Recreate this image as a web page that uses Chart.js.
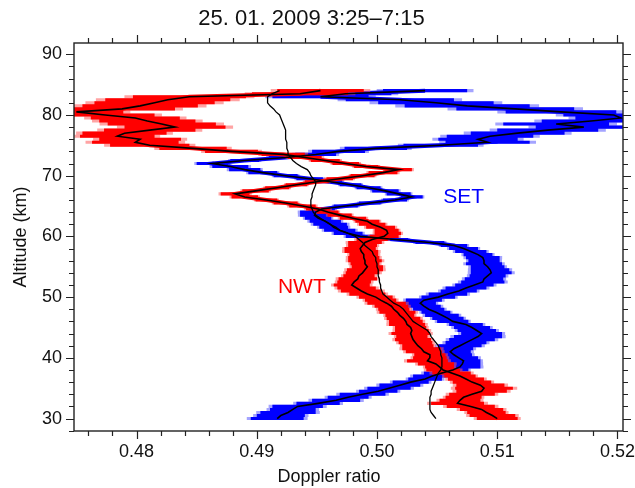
<!DOCTYPE html>
<html lang="en">
<head>
<meta charset="utf-8" />
<title>Doppler ratio profiles</title>
<script src="https://cdn.jsdelivr.net/npm/chart.js@4.4.1/dist/chart.umd.min.js"></script>
<style>
    html, body { margin: 0; padding: 0; background: #fff; }
    #wrap { width: 635px; height: 488px; }
</style>
</head>
<body>
<div id="wrap"><canvas id="chart" width="635" height="488"></canvas></div>
<script>
    // altitude grid (km)
    const altitude = [
        30, 30.5, 31, 31.5, 32, 32.5, 33, 33.5, 34, 34.5,
        35, 35.5, 36, 36.5, 37, 37.5, 38, 38.5, 39, 39.5,
        40, 40.5, 41, 41.5, 42, 42.5, 43, 43.5, 44, 44.5,
        45, 45.5, 46, 46.5, 47, 47.5, 48, 48.5, 49, 49.5,
        50, 50.5, 51, 51.5, 52, 52.5, 53, 53.5, 54, 54.5,
        55, 55.5, 56, 56.5, 57, 57.5, 58, 58.5, 59, 59.5,
        60, 60.5, 61, 61.5, 62, 62.5, 63, 63.5, 64, 64.5,
        65, 65.5, 66, 66.5, 67, 67.5, 68, 68.5, 69, 69.5,
        70, 70.5, 71, 71.5, 72, 72.5, 73, 73.5, 74, 74.5,
        75, 75.5, 76, 76.5, 77, 77.5, 78, 78.5, 79, 79.5,
        80, 80.5, 81, 81.5, 82, 82.5, 83, 83.5, 84
    ];

    // NWT beam (red)
    const nwtRatio = [
        .5100, .5096, .5091, .5087, .5078, .5067, .5069, .5072, .5079, .5087,
        .5089, .5086, .5079, .5074, .5069, .5062, .5055, .5052, .5049, .5042,
        .5044, .5044, .5039, .5037, .5034, .5032, .5030, .5029, .5028, .5029,
        .5028, .5025, .5024, .5022, .5019, .5017, .5014, .5012, .5008, .5003,
        .4999, .4992, .4987, .4983, .4979, .4981, .4984, .4985, .4988, .4990,
        .4992, .4990, .4990, .4989, .4989, .4987, .4986, .4988, .4990, .4996,
        .5006, .5009, .5008, .5003, .4996, .4992, .4980, .4969, .4959, .4951,
        .4938, .4924, .4908, .4890, .4882, .4899, .4917, .4933, .4950, .4969,
        .4988, .5005, .5018, .4991, .4974, .4957, .4940, .4922, .4879, .4847,
        .4811, .4799, .4803, .4784, .4790, .4811, .4832, .4821, .4809, .4799,
        .4774, .4750, .4788, .4803, .4815, .4826, .4844, .4936, .4953
    ];
    const nwtErr = [
        .0017, .0019, .0016, .0018, .0020, .0022, .0017, .0015, .0019, .0021,
        .0024, .0020, .0016, .0015, .0013, .0016, .0014, .0012, .0015, .0017,
        .0014, .0013, .0015, .0016, .0013, .0014, .0015, .0013, .0016, .0014,
        .0013, .0015, .0014, .0014, .0012, .0015, .0013, .0014, .0016, .0013,
        .0014, .0015, .0017, .0016, .0015, .0014, .0016, .0013, .0014, .0015,
        .0013, .0012, .0014, .0013, .0012, .0014, .0013, .0012, .0014, .0013,
        .0012, .0011, .0010, .0012, .0011, .0010, .0011, .0010, .0009, .0010,
        .0011, .0010, .0009, .0011, .0012, .0011, .0010, .0009, .0010, .0011,
        .0010, .0012, .0011, .0010, .0011, .0012, .0014, .0018, .0022, .0028,
        .0033, .0036, .0034, .0031, .0035, .0038, .0042, .0045, .0040, .0037,
        .0041, .0039, .0044, .0048, .0050, .0052, .0047, .0040, .0036
    ];

    // SET beam (blue)
    const setRatio = [
        .4917, .4920, .4926, .4930, .4934, .4951, .4966, .4976, .4988, .5001,
        .5010, .5019, .5028, .5040, .5046, .5054, .5063, .5069, .5071, .5072,
        .5068, .5064, .5061, .5064, .5069, .5074, .5079, .5084, .5087, .5083,
        .5079, .5074, .5063, .5059, .5054, .5049, .5043, .5039, .5036, .5039,
        .5051, .5059, .5068, .5074, .5081, .5088, .5089, .5092, .5095, .5094,
        .5092, .5089, .5089, .5088, .5084, .5078, .5072, .5064, .5044, .5015,
        .4986, .4976, .4969, .4964, .4961, .4957, .4951, .4948, .4949, .4954,
        .4974, .4994, .5015, .5029, .5018, .5007, .4993, .4978, .4961, .4944,
        .4924, .4905, .4890, .4878, .4863, .4890, .4924, .4949, .4968, .4999,
        .5053, .5092, .5084, .5094, .5117, .5142, .5172, .5149, .5178, .5203,
        .5197, .5153, .5115, .5075, .5049, .5019, .4953, .4974, .5040
    ];
    const setErr = [
        .0022, .0020, .0023, .0019, .0021, .0018, .0020, .0017, .0019, .0016,
        .0018, .0017, .0015, .0014, .0016, .0015, .0013, .0017, .0015, .0014,
        .0016, .0015, .0017, .0016, .0018, .0017, .0019, .0020, .0017, .0016,
        .0015, .0014, .0013, .0013, .0014, .0012, .0013, .0014, .0013, .0015,
        .0014, .0016, .0015, .0017, .0016, .0018, .0016, .0015, .0017, .0016,
        .0014, .0015, .0013, .0014, .0012, .0013, .0012, .0011, .0012, .0011,
        .0012, .0012, .0013, .0012, .0014, .0013, .0011, .0012, .0013, .0011,
        .0010, .0009, .0010, .0009, .0010, .0011, .0010, .0009, .0010, .0011,
        .0010, .0012, .0013, .0015, .0013, .0012, .0014, .0017, .0022, .0026,
        .0031, .0035, .0033, .0036, .0039, .0042, .0040, .0044, .0041, .0038,
        .0042, .0046, .0049, .0052, .0048, .0045, .0040, .0038, .0035
    ];

    // mean of both beams (black)
    const meanRatio = [
        .5049, .5047, .5045, .5044, .5044, .5044, .5044, .5044, .5045, .5045,
        .5046, .5047, .5048, .5049, .5050, .5051, .5053, .5054, .5054, .5054,
        .5054, .5053, .5053, .5052, .5051, .5049, .5047, .5045, .5044, .5042,
        .5038, .5034, .5030, .5028, .5026, .5024, .5022, .5019, .5014, .5011,
        .5008, .5005, .5004, .5003, .5003, .5002, .5002, .5001, .5001, .5001,
        .5000, .5000, .4999, .4999, .4997, .4996, .4993, .4990, .4988, .4985,
        .4982, .4976, .4969, .4966, .4961, .4957, .4953, .4949, .4947, .4946,
        .4945, .4945, .4945, .4946, .4946, .4947, .4948, .4949, .4949, .4947,
        .4945, .4944, .4942, .4937, .4933, .4930, .4928, .4926, .4926, .4925,
        .4925, .4925, .4924, .4924, .4924, .4924, .4923, .4922, .4921, .4920,
        .4919, .4916, .4914, .4911, .4909, .4909, .4909, .4913, .4919
    ];

    const xTicks = [0.48, 0.49, 0.50, 0.51, 0.52];
    const xTickLabels = ['0.48', '0.49', '0.50', '0.51', '0.52'];
    const yTicks = [30, 40, 50, 60, 70, 80, 90];
    const yTickLabels = ['30', '40', '50', '60', '70', '80', '90'];

    const FONT = '"Liberation Sans", Arial, sans-serif';
    const RED = '#ff0000';
    const BLUE = '#0000ff';

    const pts = vals => altitude.map((a, i) => ({ x: vals[i], y: a }));

    // horizontal error bars under the profile lines
    const errorBars = {
        id: 'errorBars',
        beforeDatasetsDraw(chart) {
            const { ctx, chartArea: a, scales: { x, y } } = chart;
            const series = [
                [setRatio, setErr, 'rgba(90,90,255,0.55)', BLUE],
                [nwtRatio, nwtErr, 'rgba(255,90,90,0.55)', RED]
            ];
            ctx.save();
            ctx.beginPath();
            ctx.rect(a.left, a.top, a.width, a.height);
            ctx.clip();
            series.forEach(([vals, errs, soft, solid]) => {
                // soft outer edge
                ctx.strokeStyle = soft;
                ctx.lineWidth = 3.1;
                ctx.beginPath();
                vals.forEach((v, i) => {
                    const py = y.getPixelForValue(altitude[i]);
                    ctx.moveTo(x.getPixelForValue(v - errs[i] * 1.15), py);
                    ctx.lineTo(x.getPixelForValue(v + errs[i] * 1.15), py);
                });
                ctx.stroke();
                // solid bars
                ctx.strokeStyle = solid;
                ctx.beginPath();
                vals.forEach((v, i) => {
                    const py = y.getPixelForValue(altitude[i]);
                    ctx.moveTo(x.getPixelForValue(v - errs[i]), py);
                    ctx.lineTo(x.getPixelForValue(v + errs[i]), py);
                });
                ctx.stroke();
                // coloured spine so steep parts stay continuous
                ctx.lineWidth = 4;
                ctx.beginPath();
                vals.forEach((v, i) => {
                    const px = x.getPixelForValue(v), py = y.getPixelForValue(altitude[i]);
                    if (i === 0) ctx.moveTo(px, py); else ctx.lineTo(px, py);
                });
                ctx.stroke();
            });
            ctx.restore();
        }
    };

    // frame with outward major/minor ticks on all four sides, plus free text
    const frame = {
        id: 'frame',
        afterDraw(chart) {
            const { ctx, chartArea: a, scales: { x, y } } = chart;
            ctx.save();
            ctx.strokeStyle = '#222';
            ctx.lineWidth = 1.2;
            ctx.beginPath();
            for (let k = 0; ; k++) {
                const v = 0.476 + k * 0.002;
                if (v > x.max) break;
                const px = Math.round(x.getPixelForValue(v)) + 0.5;
                const len = Math.abs(v * 100 - Math.round(v * 100)) < 1e-6 ? 8 : 5;
                ctx.moveTo(px, a.bottom); ctx.lineTo(px, a.bottom + len);
                ctx.moveTo(px, a.top); ctx.lineTo(px, a.top - len);
            }
            for (let v = 28; v <= y.max; v += 2) {
                const py = Math.round(y.getPixelForValue(v)) + 0.5;
                const len = v % 10 === 0 ? 8 : 5;
                ctx.moveTo(a.left, py); ctx.lineTo(a.left - len, py);
                ctx.moveTo(a.right, py); ctx.lineTo(a.right + len, py);
            }
            ctx.stroke();
            ctx.lineWidth = 1.4;
            ctx.strokeRect(a.left, a.top, a.width, a.height);

            ctx.textAlign = 'center';
            ctx.textBaseline = 'alphabetic';
            ctx.fillStyle = '#111';
            ctx.font = '18px ' + FONT;
            ctx.fillText('Doppler ratio', 329, 482);

            ctx.font = '21px ' + FONT;
            ctx.fillStyle = BLUE;
            ctx.fillText('SET', x.getPixelForValue(0.5072), y.getPixelForValue(65.45));
            ctx.fillStyle = RED;
            ctx.fillText('NWT', x.getPixelForValue(0.49375), y.getPixelForValue(50.6));
            ctx.restore();
        }
    };

    const lineSet = (vals, width) => ({
        data: pts(vals),
        showLine: true,
        borderColor: '#000',
        borderWidth: width,
        pointRadius: 0,
        tension: 0
    });

    new Chart(document.getElementById('chart'), {
        type: 'scatter',
        data: {
            datasets: [
                lineSet(meanRatio, 1.3),
                lineSet(nwtRatio, 1.6),
                lineSet(setRatio, 1.6)
            ]
        },
        options: {
            responsive: false,
            animation: false,
            layout: { padding: { left: 0, right: 12, top: 0, bottom: 0 } },
            plugins: {
                legend: { display: false },
                tooltip: { enabled: false },
                title: {
                    display: true,
                    text: '25. 01. 2009 3:25\u20137:15',
                    color: '#111',
                    font: { family: FONT, size: 22, weight: 'normal' },
                    padding: { top: 6, bottom: 10.6 }
                }
            },
            scales: {
                x: {
                    type: 'linear',
                    min: 0.4748,
                    max: 0.52046,
                    afterFit: s => { s.height = 57; s.paddingLeft = 0; s.paddingRight = 0; },
                    afterBuildTicks: s => { s.ticks = xTicks.map(v => ({ value: v })); },
                    ticks: {
                        callback: (v, i) => xTickLabels[i],
                        color: '#111',
                        font: { family: FONT, size: 18 },
                        padding: 10,
                        maxRotation: 0,
                        autoSkip: false
                    },
                    grid: { display: false, drawTicks: false },
                    border: { display: false }
                },
                y: {
                    type: 'linear',
                    min: 27.95,
                    max: 91.85,
                    afterFit: s => { s.width = 74; s.paddingTop = 0; s.paddingBottom = 0; },
                    afterBuildTicks: s => { s.ticks = yTicks.map(v => ({ value: v })); },
                    ticks: {
                        callback: (v, i) => yTickLabels[i],
                        color: '#111',
                        font: { family: FONT, size: 18 },
                        padding: 12,
                        autoSkip: false
                    },
                    title: {
                        display: true,
                        text: 'Altitude (km)',
                        color: '#111',
                        font: { family: FONT, size: 18 },
                        padding: { top: 10, bottom: 0 }
                    },
                    grid: { display: false, drawTicks: false },
                    border: { display: false }
                }
            }
        },
        plugins: [errorBars, frame]
    });
</script>
</body>
</html>
